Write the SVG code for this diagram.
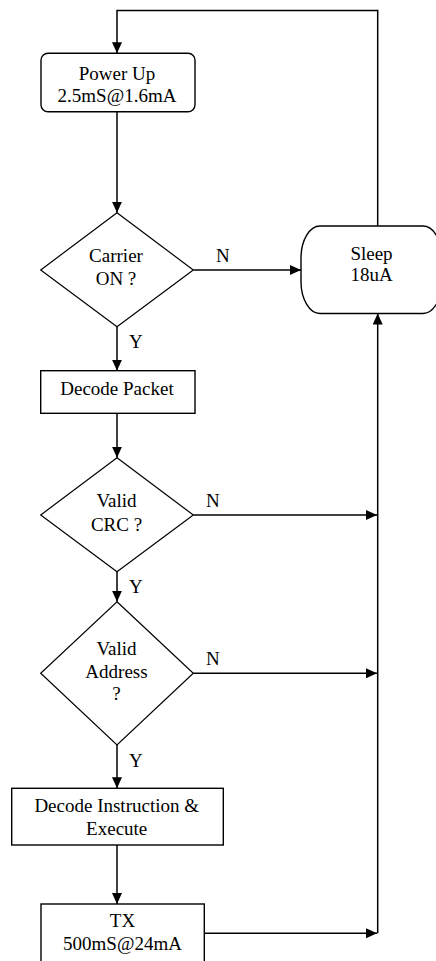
<svg xmlns="http://www.w3.org/2000/svg" width="436" height="961" viewBox="0 0 436 961">
  <defs>
    <marker id="arrow" markerUnits="userSpaceOnUse" markerWidth="12" markerHeight="10" refX="11" refY="5" orient="auto">
      <path d="M0,0 L11,5 L0,10 Z" fill="#000"/>
    </marker>
    <style>
      .shape { fill: #fff; stroke: #000; stroke-width: 1.4; }
      .diamond { fill: #fff; stroke: #000; stroke-width: 1.2; }
      .link { fill: none; stroke: #000; stroke-width: 1.5; }
      .arrow { marker-end: url(#arrow); }
      text { font-family: "Liberation Serif", "Times New Roman", serif; font-size: 19px; fill: #000; text-anchor: middle; }
      .lbl { text-anchor: start; }
    </style>
  </defs>
  <rect width="436" height="961" fill="#fff"/>

  <!-- connectors -->
  <g id="connectors">
    <path class="link arrow" d="M377.7,226 V10.5 H117 V53.3"/>
    <path class="link arrow" d="M117,111.7 V212.7"/>
    <path class="link arrow" d="M193.3,270 H301"/>
    <path class="link arrow" d="M117,326.7 V370.7"/>
    <path class="link arrow" d="M117,413.3 V457.7"/>
    <path class="link arrow" d="M193.3,515 H377"/>
    <path class="link arrow" d="M117,571.7 V601.7"/>
    <path class="link arrow" d="M193.3,673.3 H377"/>
    <path class="link arrow" d="M117,745 V788.3"/>
    <path class="link arrow" d="M117,845 V904"/>
    <path class="link arrow" d="M204.3,933.3 H377"/>
    <path class="link arrow" d="M377.7,933.3 V313.5"/>
    <text class="lbl" x="216" y="262">N</text>
    <text class="lbl" x="129" y="348">Y</text>
    <text class="lbl" x="206" y="507">N</text>
    <text class="lbl" x="129" y="593">Y</text>
    <text class="lbl" x="206" y="665">N</text>
    <text class="lbl" x="129" y="767">Y</text>
  </g>

  <g id="power-up">
    <rect class="shape" x="41" y="53.3" width="154" height="58.4" rx="7"/>
    <text x="117" y="79.5">Power Up</text>
    <text x="117" y="101.5">2.5mS@1.6mA</text>
  </g>

  <g id="carrier-on">
    <polygon class="diamond" points="117,212.7 193.3,270 117,326.7 40.7,270"/>
    <text x="116" y="262.3">Carrier</text>
    <text x="116" y="285">ON ?</text>
  </g>

  <g id="sleep">
    <rect class="shape" x="301" y="226" width="141" height="87.5" rx="19" ry="32"/>
    <text x="371.5" y="260">Sleep</text>
    <text x="371.5" y="281">18uA</text>
  </g>

  <g id="decode-packet">
    <rect class="shape" x="40.7" y="370.7" width="154.3" height="42.6"/>
    <text x="117" y="395">Decode Packet</text>
  </g>

  <g id="valid-crc">
    <polygon class="diamond" points="117,457.7 193.3,515 117,571.7 40.7,515"/>
    <text x="116.5" y="506.7">Valid</text>
    <text x="116.5" y="530.7">CRC ?</text>
  </g>

  <g id="valid-address">
    <polygon class="diamond" points="117,601.7 193.3,673.3 117,745 40.7,673.3"/>
    <text x="116.5" y="655">Valid</text>
    <text x="116.5" y="678.3">Address</text>
    <text x="116.5" y="700">?</text>
  </g>

  <g id="decode-instruction">
    <rect class="shape" x="11.7" y="788.3" width="211.6" height="56.7"/>
    <text x="116.7" y="811.7">Decode Instruction &amp;</text>
    <text x="116.7" y="835">Execute</text>
  </g>

  <g id="tx">
    <rect class="shape" x="41" y="904" width="163.3" height="62"/>
    <text x="122.5" y="926.7">TX</text>
    <text x="122.5" y="950">500mS@24mA</text>
  </g>
</svg>
